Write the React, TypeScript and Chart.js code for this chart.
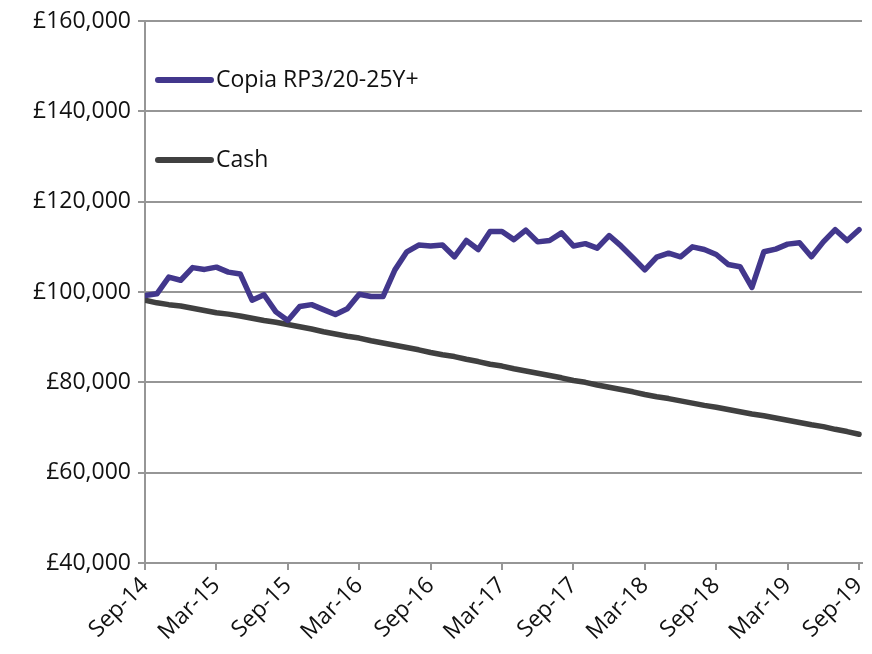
import React, { useEffect, useRef } from 'react';
import { Chart, registerables } from 'chart.js';

Chart.register(...registerables);

const months: string[] = [
  'Sep-14', 'Oct-14', 'Nov-14', 'Dec-14',
  'Jan-15', 'Feb-15', 'Mar-15', 'Apr-15', 'May-15', 'Jun-15', 'Jul-15', 'Aug-15', 'Sep-15', 'Oct-15', 'Nov-15', 'Dec-15',
  'Jan-16', 'Feb-16', 'Mar-16', 'Apr-16', 'May-16', 'Jun-16', 'Jul-16', 'Aug-16', 'Sep-16', 'Oct-16', 'Nov-16', 'Dec-16',
  'Jan-17', 'Feb-17', 'Mar-17', 'Apr-17', 'May-17', 'Jun-17', 'Jul-17', 'Aug-17', 'Sep-17', 'Oct-17', 'Nov-17', 'Dec-17',
  'Jan-18', 'Feb-18', 'Mar-18', 'Apr-18', 'May-18', 'Jun-18', 'Jul-18', 'Aug-18', 'Sep-18', 'Oct-18', 'Nov-18', 'Dec-18',
  'Jan-19', 'Feb-19', 'Mar-19', 'Apr-19', 'May-19', 'Jun-19', 'Jul-19', 'Aug-19', 'Sep-19',
];

const tickLabels: string[] = [
  'Sep-14', 'Mar-15', 'Sep-15', 'Mar-16', 'Sep-16', 'Mar-17', 'Sep-17', 'Mar-18', 'Sep-18', 'Mar-19', 'Sep-19',
];

const copiaValues: number[] = [
  99200, 99600, 103300, 102600, 105400, 105000, 105500, 104400, 104000, 98200,
  99400, 95600, 93700, 96800, 97200, 96100, 95000, 96300, 99500, 99000,
  99000, 104900, 108900, 110400, 110200, 110400, 107800, 111400, 109400, 113400,
  113400, 111600, 113700, 111100, 111400, 113100, 110200, 110700, 109700, 112500,
  110200, 107600, 104900, 107700, 108600, 107800, 110000, 109400, 108300, 106100,
  105600, 101000, 108900, 109500, 110600, 110900, 107800, 111100, 113800, 111400, 113800,
];

const cashValues: number[] = [
  98200, 97600, 97200, 96900, 96400, 95900, 95400, 95100, 94700, 94200,
  93700, 93300, 92800, 92300, 91800, 91200, 90700, 90200, 89800, 89200,
  88700, 88200, 87700, 87200, 86600, 86100, 85700, 85100, 84600, 84000,
  83600, 83000, 82500, 82000, 81500, 81000, 80400, 80000, 79400, 78900,
  78400, 77900, 77300, 76800, 76400, 75900, 75400, 74900, 74500, 74000,
  73500, 73000, 72600, 72100, 71600, 71100, 70600, 70200, 69600, 69100, 68500,
];

const seriesNames: string[] = ['Copia RP3/20-25Y+', 'Cash'];

const FONT = '"Open Sans", sans-serif';
const FONT_SIZE = 23;
const GRID = '#969696';

const insideLegend = {
  id: 'insideLegend',
  afterDraw(chart: any) {
    const ctx = chart.ctx;
    const rows = [80, 160];
    ctx.save();
    chart.data.datasets.forEach((ds: any, i: number) => {
      const y = rows[i];
      ctx.beginPath();
      ctx.strokeStyle = ds.borderColor;
      ctx.lineWidth = 6;
      ctx.lineCap = 'round';
      ctx.moveTo(158, y);
      ctx.lineTo(211, y);
      ctx.stroke();
      ctx.fillStyle = '#111';
      ctx.font = `${FONT_SIZE}px ${FONT}`;
      ctx.textAlign = 'left';
      ctx.textBaseline = 'middle';
      ctx.fillText(ds.label, 216, y);
    });
    ctx.restore();
  },
};

export default function App() {
  const ref = useRef<HTMLCanvasElement | null>(null);

  useEffect(() => {
    if (!ref.current) return;
    const chart = new Chart(ref.current, {
      type: 'line',
      data: {
        datasets: [
          {
            label: seriesNames[0],
            data: copiaValues.map((v, i) => ({ x: i, y: v })),
            borderColor: '#42378C',
            borderWidth: 5.5,
            pointRadius: 0,
            tension: 0,
            borderJoinStyle: 'round',
            borderCapStyle: 'round',
          },
          {
            label: seriesNames[1],
            data: cashValues.map((v, i) => ({ x: i, y: v })),
            borderColor: '#404040',
            borderWidth: 5.5,
            pointRadius: 0,
            tension: 0,
            borderJoinStyle: 'round',
            borderCapStyle: 'round',
          },
        ],
      },
      options: {
        responsive: false,
        animation: false,
        events: [],
        layout: { padding: { top: 21, right: 10, bottom: 0, left: 0 } },
        plugins: {
          legend: { display: false },
          tooltip: { enabled: false },
        },
        scales: {
          x: {
            type: 'linear',
            min: 0,
            max: 60.25,
            afterBuildTicks: (scale: any) => {
              scale.ticks = tickLabels.map((_, i) => ({ value: i * 6 }));
            },
            afterFit: (scale: any) => {
              scale.height = 91;
              scale.paddingLeft = 0;
              scale.paddingRight = 0;
            },
            ticks: {
              autoSkip: false,
              minRotation: 45,
              maxRotation: 45,
              padding: 2,
              color: '#111',
              font: { family: FONT, size: FONT_SIZE },
              callback: (v: any) => tickLabels[Math.round(Number(v) / 6)] ?? '',
            },
            grid: {
              drawOnChartArea: false,
              drawTicks: true,
              tickLength: 7,
              color: GRID,
              lineWidth: 2,
            },
            border: { display: true, color: GRID, width: 2 },
          },
          y: {
            min: 40000,
            max: 160000,
            afterFit: (scale: any) => {
              scale.width = 145;
              scale.paddingTop = 0;
              scale.paddingBottom = 0;
            },
            ticks: {
              stepSize: 20000,
              padding: 7,
              color: '#111',
              font: { family: FONT, size: FONT_SIZE },
              callback: (v: any) => '£' + Number(v).toLocaleString('en-GB'),
            },
            grid: {
              drawTicks: true,
              tickLength: 7,
              color: GRID,
              lineWidth: 2,
            },
            border: { display: true, color: GRID, width: 2 },
          },
        },
      },
      plugins: [insideLegend],
    });
    return () => chart.destroy();
  }, []);

  return (
    <div style={{ position: 'fixed', left: 0, top: 0, width: 872, height: 654, background: '#fff' }}>
      <canvas ref={ref} width={872} height={654} style={{ display: 'block' }} />
    </div>
  );
}
